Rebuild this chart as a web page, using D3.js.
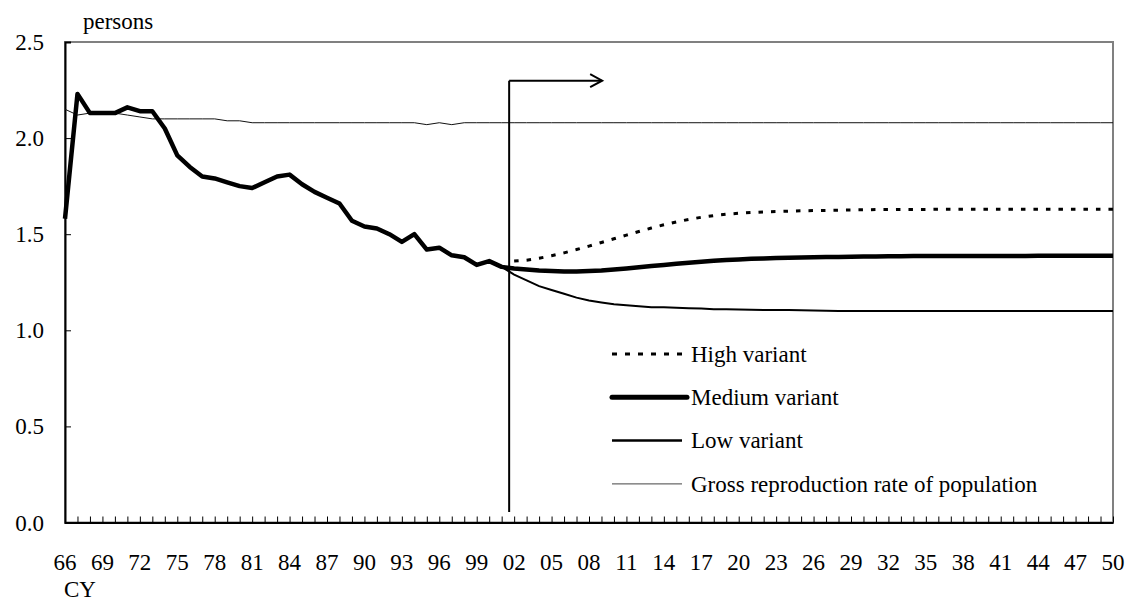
<!DOCTYPE html>
<html><head><meta charset="utf-8">
<script src="https://cdn.jsdelivr.net/npm/d3@7"></script>
<style>
html,body{margin:0;padding:0;background:#fff;}
svg{display:block;font-family:'Liberation Serif', serif;}
</style></head>
<body><svg id="c" width="1127" height="606"></svg>
<script>
// ---- data ----
const years = d3.range(1966, 2051);
const medium = [
 1.58,2.23,2.13,2.13,2.13,2.16,2.14,2.14,2.05,1.91,
 1.85,1.80,1.79,1.77,1.75,1.74,1.77,1.80,1.81,1.76,
 1.72,1.69,1.66,1.57,1.54,1.53,1.50,1.46,1.50,1.42,
 1.43,1.39,1.38,1.34,1.36,
 1.33,1.322,1.316,1.311,1.308,1.306,1.306,1.308,1.311,1.316,
 1.322,1.328,1.334,1.340,1.346,1.352,1.357,1.362,1.366,1.369,
 1.372,1.374,1.376,1.378,1.379,1.380,1.381,1.382,1.383,1.384,
 1.384,1.385,1.385,1.386,1.386,1.386,1.387,1.387,1.387,1.387,
 1.387,1.387,1.387,1.388,1.388,1.388,1.388,1.388,1.388,1.388];
const lowYears = d3.range(2001, 2051);
const low = [
 1.33,1.29,1.26,1.23,1.21,1.19,1.17,1.155,1.145,1.135,
 1.13,1.125,1.12,1.12,1.117,1.115,1.113,1.11,1.11,1.108,
 1.107,1.106,1.105,1.105,1.104,1.103,1.102,1.101,1.10,1.10,
 1.10,1.10,1.10,1.10,1.10,1.10,1.10,1.10,1.10,1.10,
 1.10,1.10,1.10,1.10,1.10,1.10,1.10,1.10,1.10,1.10];
const highYears = d3.range(2002, 2051);
const high = [
 1.36,1.365,1.375,1.388,1.403,1.42,1.438,1.457,1.476,1.495,
 1.514,1.532,1.549,1.564,1.577,1.588,1.597,1.604,1.609,1.613,
 1.616,1.618,1.62,1.622,1.623,1.624,1.625,1.626,1.627,1.628,
 1.628,1.629,1.629,1.629,1.63,1.63,1.63,1.63,1.63,1.63,
 1.63,1.63,1.63,1.63,1.63,1.63,1.63,1.63,1.63];
const grr = [
 2.15,2.12,2.13,2.13,2.13,2.12,2.11,2.10,2.10,2.10,
 2.10,2.10,2.10,2.09,2.09,2.08,2.08,2.08,2.08,2.08,
 2.08,2.08,2.08,2.08,2.08,2.08,2.08,2.08,2.08,2.07,
 2.08,2.07,2.08,2.08,2.08,2.08,2.08,2.08,2.08,2.08,
 2.08,2.08,2.08,2.08,2.08,2.08,2.08,2.08,2.08,2.08,
 2.08,2.08,2.08,2.08,2.08,2.08,2.08,2.08,2.08,2.08,
 2.08,2.08,2.08,2.08,2.08,2.08,2.08,2.08,2.08,2.08,
 2.08,2.08,2.08,2.08,2.08,2.08,2.08,2.08,2.08,2.08,
 2.08,2.08,2.08,2.08,2.08];
const yTicks = [0, 0.5, 1.0, 1.5, 2.0, 2.5];
const labelYears = d3.range(1966, 2051, 3);
const projectionStartYear = 2001.6;
const legendItems = ["High variant","Medium variant","Low variant","Gross reproduction rate of population"];

// ---- layout ----
const L = 65, R = 1113, T = 42, B = 522.5;
const svg = d3.select("#c");
const x = d3.scaleLinear().domain([1966, 2050]).range([L, R]);
const y = d3.scaleLinear().domain([0, 2.5]).range([B, T]);

// plot border (gray top/right)
svg.append("rect").attr("x", L).attr("y", T).attr("width", R - L).attr("height", B - T)
  .attr("fill", "none").attr("stroke", "#808080").attr("stroke-width", 2);

// y axis (ticks only)
const yAxis = svg.append("g").attr("transform", `translate(${L},0)`)
  .call(d3.axisRight(y).tickValues(yTicks).tickSize(6).tickFormat(""));
yAxis.select(".domain").attr("stroke", "#000").attr("stroke-width", 2);
yAxis.selectAll(".tick line").attr("stroke", "#000").attr("stroke-width", 1);
yAxis.selectAll(".tick text").remove();

// x axis (ticks only)
const xAxis = svg.append("g").attr("transform", `translate(0,${B})`)
  .call(d3.axisTop(x).tickValues(years).tickSize(6).tickSizeOuter(0).tickFormat(""));
xAxis.select(".domain").attr("stroke", "#000").attr("stroke-width", 2);
xAxis.selectAll(".tick line").attr("stroke", "#000").attr("stroke-width", 1);
xAxis.selectAll(".tick text").remove();

// lines
const line = d3.line().x(d => x(d[0])).y(d => y(d[1]));
svg.append("path").datum(years.map((yr, i) => [yr, grr[i]]))
  .attr("d", line).attr("fill", "none").attr("stroke", "#111").attr("stroke-width", 1);
svg.append("path").datum(lowYears.map((yr, i) => [yr, low[i]]))
  .attr("d", line).attr("fill", "none").attr("stroke", "#000").attr("stroke-width", 2);
svg.append("path").datum(highYears.map((yr, i) => [yr, high[i]]))
  .attr("d", line).attr("fill", "none").attr("stroke", "#000").attr("stroke-width", 3)
  .attr("stroke-dasharray", "4.5,8");
svg.append("path").datum(years.map((yr, i) => [yr, medium[i]]))
  .attr("d", line).attr("fill", "none").attr("stroke", "#000").attr("stroke-width", 4.5)
  .attr("stroke-linejoin", "round");

// projection divider and arrow
const xd = x(projectionStartYear);
const ya = 80.7;
svg.append("line").attr("x1", xd).attr("x2", xd).attr("y1", ya).attr("y2", 512)
  .attr("stroke", "#000").attr("stroke-width", 2);
svg.append("line").attr("x1", xd).attr("x2", xd + 93).attr("y1", ya).attr("y2", ya)
  .attr("stroke", "#000").attr("stroke-width", 2);
svg.append("path").attr("d", `M${xd + 81},${ya - 6.5} L${xd + 93},${ya} L${xd + 81},${ya + 6.5}`)
  .attr("fill", "none").attr("stroke", "#000").attr("stroke-width", 2);

// legend
const lg = svg.append("g");
const legStyles = [
  {w: 3, dash: "5,8"},
  {w: 5, dash: null},
  {w: 2.5, dash: null},
  {w: 1, dash: null, color: "#444"}
];
const labels = [];
legendItems.forEach((t, i) => {
  const yy = 354 + i * 43.3;
  const s = legStyles[i];
  const ln = lg.append("line").attr("x1", 612).attr("x2", i === 1 ? 687 : 682)
    .attr("y1", yy).attr("y2", yy).attr("stroke", s.color || "#000")
    .attr("stroke-width", s.w).attr("stroke-linecap", i === 1 ? "round" : "butt");
  if (s.dash) ln.attr("stroke-dasharray", s.dash);
  labels.push({t: t, x: 691, y: yy + 7.6, a: "start"});
});

// all texts in one group, drawn the same way
yTicks.forEach(v => labels.push({t: d3.format(".1f")(v), x: 44, y: y(v) + 8, a: "end"}));
labelYears.forEach(v => labels.push({t: String(v % 100).padStart(2, "0"), x: x(v), y: 570, a: "middle"}));
labels.push({t: "persons", x: 83, y: 29, a: "start"});
labels.push({t: "CY", x: 64, y: 597, a: "start"});

svg.append("g").attr("font-family", "'Liberation Serif', serif").attr("font-size", 23).attr("fill", "#000")
  .selectAll("text").data(labels).join("text")
  .attr("x", d => d.x).attr("y", d => d.y).attr("text-anchor", d => d.a)
  .text(d => d.t);
</script></body></html>
